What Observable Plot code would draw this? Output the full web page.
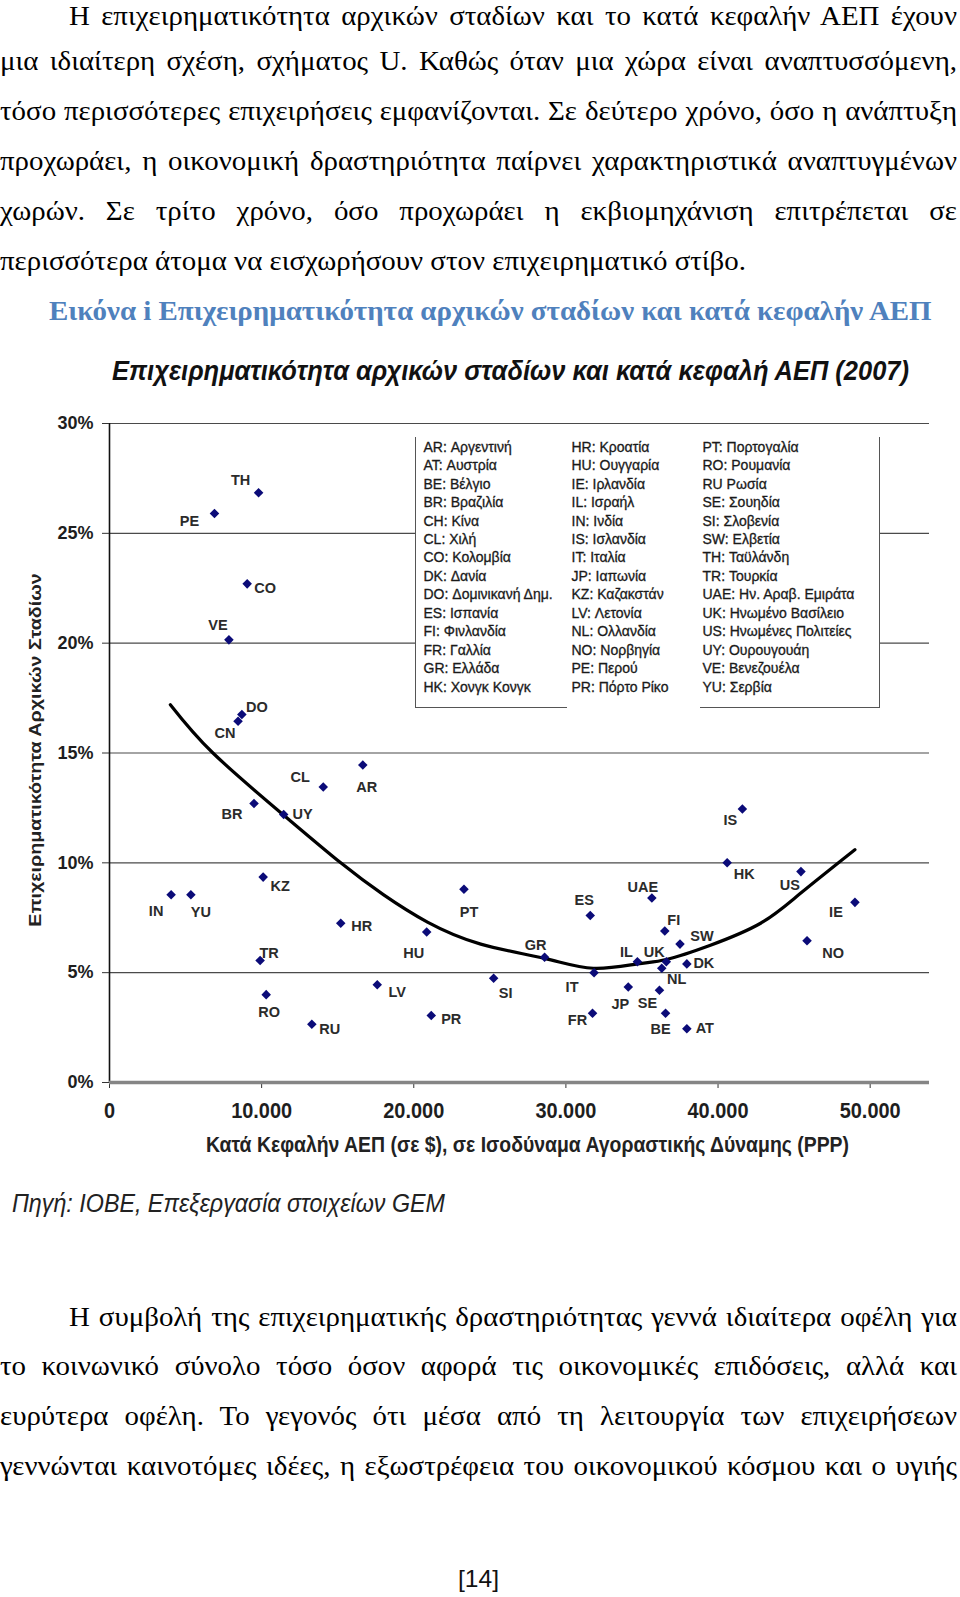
<!DOCTYPE html>
<html><head><meta charset="utf-8">
<script src="https://cdn.jsdelivr.net/npm/d3@7"></script>
<script src="https://cdn.jsdelivr.net/npm/@observablehq/plot@0.6"></script>
<style>
html,body{margin:0;padding:0;background:#fff;}
#page{position:relative;width:960px;height:1597px;overflow:hidden;background:#fff;}
.t{position:absolute;white-space:nowrap;transform-origin:0 50%;}
</style></head>
<body><div id="page"></div>
<script>
// ---------- DATA ----------
const codes = ["TH","PE","CO","VE","DO","CN","CL","AR","BR","UY","KZ","IN","YU","HR","HU","PT","TR","LV","RO","RU","PR","GR","SI","ES","IT","FR","UAE","IL","JP","UK","NL","SE","FI","BE","SW","DK","AT","HK","IS","US","NO","IE"];
const gdp =   [9800,6900,9050,7850,8700,8450,14050,16650,9500,11450,10100,4050,5350,15200,20850,23300,9900,17600,10300,13300,21150,28600,25250,31600,31850,31750,35650,34700,34100,36600,36300,36150,36500,36550,37500,37950,37950,40600,41600,45450,45850,49000];
const rate =  [26.85,25.9,22.7,20.15,16.75,16.45,13.45,14.45,12.7,12.2,9.35,8.55,8.55,7.25,6.85,8.8,5.55,4.45,4.0,2.65,3.05,5.7,4.75,7.6,5.0,3.15,8.4,5.5,4.35,5.5,5.2,4.2,6.9,3.15,6.3,5.4,2.45,10.0,12.45,9.6,6.45,8.2];

// trend curve
const curveGdp  = [4000,6800,11400,15200,18000,20900,24400,28600,31800,34700,36600,39500,42800,45400,49000];
const curveRate = [17.2,15.0,12.2,10.0,8.55,7.3,6.3,5.65,5.2,5.4,5.6,6.25,7.25,8.6,10.6];

const xTicks = [0,10000,20000,30000,40000,50000];
const yTicks = [0,5,10,15,20,25,30];

const legendCol1 = ["AR: Αργεντινή","AT: Αυστρία","BE: Βέλγιο","BR: Βραζιλία","CH: Κίνα","CL: Χιλή","CO: Κολομβία","DK: Δανία","DO: Δομινικανή Δημ.","ES: Ισπανία","FI: Φινλανδία","FR: Γαλλία","GR: Ελλάδα","HK: Χονγκ Κονγκ"];
const legendCol2 = ["HR: Κροατία","HU: Ουγγαρία","IE: Ιρλανδία","IL: Ισραήλ","IN: Ινδία","IS: Ισλανδία","IT: Ιταλία","JP: Ιαπωνία","KZ: Καζακστάν","LV: Λετονία","NL: Ολλανδία","NO: Νορβηγία","PE: Περού","PR: Πόρτο Ρίκο"];
const legendCol3 = ["PT: Πορτογαλία","RO: Ρουμανία","RU Ρωσία","SE: Σουηδία","SI: Σλοβενία","SW: Ελβετία","TH: Ταϋλάνδη","TR: Τουρκία","UAE: Ην. Αραβ. Εμιράτα","UK: Ηνωμένο Βασίλειο","US: Ηνωμένες Πολιτείες","UY: Ουρουγουάη","VE: Βενεζουέλα","YU: Σερβία"];

const chartTitle = "Επιχειρηματικότητα αρχικών σταδίων και κατά κεφαλή ΑΕΠ (2007)";
const xTitle = "Κατά Κεφαλήν ΑΕΠ (σε $), σε Ισοδύναμα Αγοραστικής Δύναμης (PPP)";
const yTitle = "Επιχειρηματικότητα Αρχικών Σταδίων";
const sourceText = "Πηγή: ΙΟΒΕ, Επεξεργασία στοιχείων GEM";
const figCaption = "Εικόνα i Επιχειρηματικότητα αρχικών σταδίων και κατά κεφαλήν ΑΕΠ";
const para1 = [
 "Η επιχειρηματικότητα αρχικών σταδίων και το κατά κεφαλήν ΑΕΠ έχουν",
 "μια ιδιαίτερη σχέση, σχήματος U. Καθώς όταν μια χώρα είναι αναπτυσσόμενη,",
 "τόσο περισσότερες επιχειρήσεις εμφανίζονται. Σε δεύτερο χρόνο, όσο η ανάπτυξη",
 "προχωράει, η οικονομική δραστηριότητα παίρνει χαρακτηριστικά αναπτυγμένων",
 "χωρών. Σε τρίτο χρόνο, όσο προχωράει η εκβιομηχάνιση επιτρέπεται σε",
 "περισσότερα άτομα να εισχωρήσουν στον επιχειρηματικό στίβο."
];
const para2 = [
 "Η συμβολή της επιχειρηματικής δραστηριότητας γεννά ιδιαίτερα οφέλη για",
 "το κοινωνικό σύνολο τόσο όσον αφορά τις οικονομικές επιδόσεις, αλλά και",
 "ευρύτερα οφέλη. Το γεγονός ότι μέσα από τη λειτουργία των επιχειρήσεων",
 "γεννώνται καινοτόμες ιδέες, η εξωστρέφεια του οικονομικού κόσμου και ο υγιής"
];
const pageNumber = "[14]";

// ---------- LAYOUT (label placement, px) ----------
const labelOffsets = {
 TH:[-18,-12], PE:[-25,8], CO:[18,5], VE:[-11,-15], DO:[15,-7], CN:[-13,12], CL:[-23,-10], AR:[4,22],
 BR:[-22,11], UY:[19,0], KZ:[17,9], IN:[-15,17], YU:[10,18], HR:[21,3], HU:[-13,21], PT:[5,23],
 TR:[9,-7], LV:[20,8], RO:[3,18], RU:[18,5], PR:[20,4], GR:[-9,-12], SI:[12,15], ES:[-6,-15],
 IT:[-22,15], FR:[-15,7], UAE:[-9,-11], IL:[-11,-9], JP:[-8,17], UK:[-12,-9], NL:[15,11], SE:[-12,13],
 FI:[9,-11], BE:[-5,16], SW:[22,-8], DK:[17,-1], AT:[18,0], HK:[17,12], IS:[-12,11], US:[-11,14],
 NO:[26,13], IE:[-19,10]
};

const page = document.getElementById("page");
function addText(str, o) {
  const el = document.createElement("div");
  el.className = "t";
  el.textContent = str;
  const lh = o.lh || 32;
  el.style.font = o.font;
  el.style.lineHeight = lh + "px";
  el.style.color = o.color || "#000";
  el.style.top = (o.cy - lh / 2) + "px";
  el.style.left = "0px";
  page.appendChild(el);
  const nw = el.getBoundingClientRect().width;
  const s = o.w ? o.w / nw : 1;
  let left = o.x || 0;
  if (o.cx != null) left = o.cx - nw * s / 2;
  el.style.left = left + "px";
  el.style.transform = `scaleX(${s})`;
  return {el, nw};
}

// ---------- CHART ----------
const countries = codes.map((code, i) => ({code, gdp: gdp[i], rate: rate[i]}));
const curve = curveGdp.map((g, i) => ({gdp: g, rate: curveRate[i]}));
const fmtX = d => d3.format(",")(d).replace(/,/g, ".");

const chart = Plot.plot({
  width: 960, height: 820,
  marginTop: 83, marginBottom: 78, marginLeft: 109, marginRight: 31,
  style: {fontFamily: "'Liberation Sans', Arial, sans-serif", background: "transparent", color: "#1e1e1e"},
  x: {domain: [0, 53900]},
  y: {domain: [0, 30]},
  marks: [
    Plot.ruleY(yTicks.filter(d => d > 0), {stroke: "#4a4a4a", strokeWidth: 1.2}),
    Plot.ruleX([0], {stroke: "#111", strokeWidth: 1.6}),
    Plot.axisY({ticks: yTicks, tickFormat: d => d + "%", tickSize: 7, tickPadding: 9, fontSize: 18, fontWeight: "bold", label: null, stroke: "#333"}),
    Plot.axisX({ticks: xTicks, tickFormat: fmtX, tickSize: 6, tickPadding: 14, fontSize: 22, fontWeight: "bold", label: null, stroke: "#333"}),
    Plot.ruleY([0], {stroke: "#858585", strokeWidth: 3.5}),
    Plot.line(curve, {x: "gdp", y: "rate", curve: "natural", stroke: "#000", strokeWidth: 3.2}),
    Plot.dot(countries, {x: "gdp", y: "rate", symbol: "diamond2", r: 4.3, fill: "#0b0b78", stroke: "none"}),
    ...countries.map(c => Plot.text([c], {x: "gdp", y: "rate", text: "code",
      dx: labelOffsets[c.code][0], dy: labelOffsets[c.code][1],
      fontSize: 14.5, fontWeight: "bold", fill: "#2b2b2b"}))
  ]
});
chart.style.position = "absolute";
chart.style.left = "0px";
chart.style.top = "340px";
page.appendChild(chart);

// condense x tick labels (narrow font in reference)
(function() {
  const texts = Array.from(chart.querySelectorAll("text")).filter(t => /^\d+(\.\d+)?$/.test(t.textContent));
  const ref = texts.find(t => t.textContent === "10.000");
  if (ref) {
    const f = 61 / ref.getComputedTextLength();
    texts.forEach(t => {
      t.setAttribute("textLength", t.getComputedTextLength() * f);
      t.setAttribute("lengthAdjust", "spacingAndGlyphs");
    });
  }
})();

// ---------- LEGEND ----------
const legBox = document.createElement("div");
Object.assign(legBox.style, {position: "absolute", left: "415px", top: "437px", width: "463px", height: "271px",
  background: "#fff", borderLeft: "1.5px solid #555", borderRight: "1.5px solid #555"});
page.appendChild(legBox);
[[415, 152], [700, 180]].forEach(([l, w]) => {
  const b = document.createElement("div");
  Object.assign(b.style, {position: "absolute", left: l + "px", top: "707px", width: w + "px", height: "0px", borderTop: "1.5px solid #555"});
  page.appendChild(b);
});
const colX = [423.5, 571.5, 702.5];
[legendCol1, legendCol2, legendCol3].forEach((col, c) => {
  col.forEach((item, r) => {
    const {el} = addText(item, {font: "14px 'Liberation Sans', Arial, sans-serif", cy: 446.7 + r * 18.46, x: colX[c], color: "#1a1a1a", lh: 18});
    el.style.webkitTextStroke = "0.3px #1a1a1a";
  });
});

// ---------- TITLES ----------
addText(chartTitle, {font: "bold italic 27px 'Liberation Sans', Arial, sans-serif", cy: 371, x: 112, w: 797, color: "#111", lh: 34});
addText(xTitle, {font: "bold 22px 'Liberation Sans', Arial, sans-serif", cy: 1144.5, x: 206, w: 643, color: "#222", lh: 28});
addText(sourceText, {font: "italic 26px 'Liberation Sans', Arial, sans-serif", cy: 1202.5, x: 12, w: 433, color: "#222", lh: 32});
(function() {
  const {el, nw} = addText(yTitle, {font: "bold 17px 'Liberation Sans', Arial, sans-serif", cy: 750, x: 0, color: "#222", lh: 22});
  const s = 353.5 / nw;
  el.style.left = (35.6 - nw / 2) + "px";
  el.style.transformOrigin = "50% 50%";
  el.style.transform = `rotate(-90deg) scaleX(${s})`;
})();

// ---------- BODY TEXT ----------
const bodyFont = "28px 'Liberation Serif', 'Times New Roman', serif";
const probe = addText(para1[para1.length - 1], {font: bodyFont, cy: -100, x: 0});
const S = 746 / probe.nw;
probe.el.remove();
function paragraph(lines, cys, lastUnjustified) {
  lines.forEach((str, i) => {
    const x = i === 0 ? 69 : 0;
    const lh = cys[i] < 20 ? 32 : 36;
    const {el, nw} = addText(str, {font: bodyFont, cy: cys[i], x, lh});
    el.style.transform = `scaleX(${S})`;
    if (!(lastUnjustified && i === lines.length - 1)) {
      const target = (957 - x) / S;
      const spaces = (str.match(/ /g) || []).length;
      el.style.wordSpacing = ((target - nw) / spaces) + "px";
    }
  });
}
paragraph(para1, [16.2, 61.1, 110.5, 160.5, 210.5, 260.6], true);
paragraph(para2, [1316.5, 1366.3, 1416.2, 1466.1], false);
addText(figCaption, {font: "bold 28px 'Liberation Serif', 'Times New Roman', serif", cy: 310.5, x: 49, w: 882.6, color: "#4f81bd", lh: 36});
addText(pageNumber, {font: "24px 'Liberation Sans', Arial, sans-serif", cx: 478.5, w: 41, cy: 1579, color: "#111", lh: 30});
</script></body></html>
